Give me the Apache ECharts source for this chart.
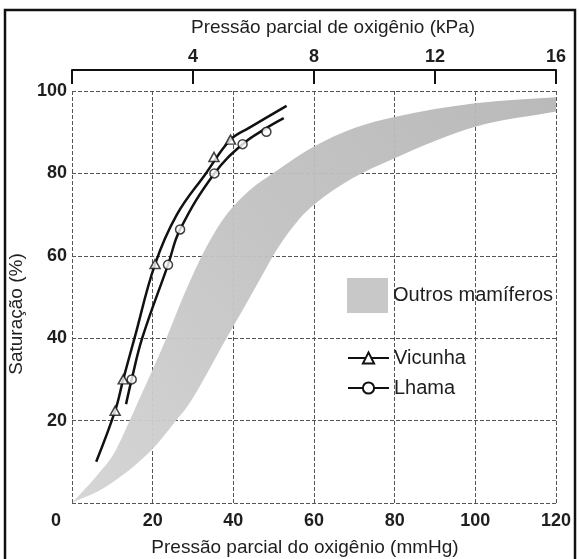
<!DOCTYPE html>
<html><head><meta charset="utf-8">
<script src="https://cdn.jsdelivr.net/npm/echarts@6/dist/echarts.min.js"></script>
<style>html,body{margin:0;padding:0;background:#fff}#c{width:579px;height:559px}</style>
</head><body><div id="c"></div>
<script>
// Axis ticks
const mmHgTicks = [0, 20, 40, 60, 80, 100, 120];
const kPaTicks = [0, 4, 8, 12, 16];
const satTicks = [0, 20, 40, 60, 80, 100];

// Measured points
const vicunhaPtsX = [10.7, 12.7, 20.6, 35.2, 39.3];
const vicunhaPtsY = [22.4, 30, 58, 84, 88.2];
const lhamaPtsX = [14.8, 23.8, 26.8, 35.3, 42.3, 48.2];
const lhamaPtsY = [30, 57.8, 66.4, 80, 87.1, 90.1];

// Fitted curves
const vicunhaCurveX = [6, 10.7, 12.7, 15.5, 20.6, 26, 33.2, 39.3, 44, 53.2];
const vicunhaCurveY = [10, 22.4, 30, 40, 58, 70, 80, 88.2, 91.1, 96.4];
const lhamaCurveX = [13.4, 14.8, 17.4, 23.8, 26.8, 35.3, 42.3, 48.2, 52.5];
const lhamaCurveY = [24, 30, 40, 57.8, 66.4, 80, 87.1, 91, 93.4];

// "Outros mamíferos" band edges
const bandUpperX = [0, 6.2, 10.5, 14.3, 16, 23.4, 26.5, 32.2, 37.2, 42.8, 51, 60, 70, 80, 100, 120];
const bandUpperY = [0, 6.7, 12.2, 20, 23.7, 40, 47.6, 60, 68.5, 74.8, 80.8, 86.5, 91, 93.7, 97, 98.5];
const bandLowerX = [0, 8.5, 19.8, 25.8, 28.8, 38.3, 43, 47.3, 50.8, 56.4, 60, 69.3, 80, 100, 120];
const bandLowerY = [0, 4, 12.9, 20, 23.7, 40, 48, 55.5, 61.5, 69, 72.4, 78.7, 83.7, 91.3, 95];

const FONT = 'Liberation Sans, Arial, sans-serif';
const TXT = '#1e1e1e';

const zip = (xs, ys) => xs.map((x, i) => [x, ys[i]]);
const bandUpper = zip(bandUpperX, bandUpperY);
const bandLower = zip(bandLowerX, bandLowerY);

// Monotone cubic bezier segments through pixel points (rendering only)
function monoSegments(p) {
  const n = p.length, d = [], m = [];
  for (let k = 0; k < n - 1; k++) d.push((p[k + 1][1] - p[k][1]) / (p[k + 1][0] - p[k][0]));
  m[0] = d[0]; m[n - 1] = d[n - 2];
  for (let k = 1; k < n - 1; k++) m[k] = (d[k - 1] * d[k] <= 0) ? 0 : (d[k - 1] + d[k]) / 2;
  for (let k = 0; k < n - 1; k++) {
    if (d[k] === 0) { m[k] = 0; m[k + 1] = 0; continue; }
    const a = m[k] / d[k], b = m[k + 1] / d[k], s = a * a + b * b;
    if (s > 9) { const t = 3 / Math.sqrt(s); m[k] = t * a * d[k]; m[k + 1] = t * b * d[k]; }
  }
  const segs = [];
  for (let k = 0; k < n - 1; k++) {
    const h = p[k + 1][0] - p[k][0];
    segs.push([p[k], [p[k][0] + h / 3, p[k][1] + m[k] * h / 3], [p[k + 1][0] - h / 3, p[k + 1][1] - m[k + 1] * h / 3], p[k + 1]]);
  }
  return segs;
}
const f = v => v.toFixed(2);

const chart = echarts.init(document.getElementById('c'), null, {renderer: 'canvas'});
const gridLine = {show: true, lineStyle: {color: '#555', width: 1, type: [4, 2]}};
const numLabel = {fontFamily: FONT, fontSize: 18, fontWeight: 'bold', color: TXT};

const option = {
  backgroundColor: '#fff',
  animation: false,
  graphic: [{
    type: 'rect', silent: true, z: 100,
    shape: {x: 5, y: 10, width: 570, height: 560},
    style: {fill: 'none', stroke: '#111', lineWidth: 2.5}
  }],
  grid: {left: 72, right: 23, top: 91, bottom: 56, containLabel: false, outerBoundsMode: 'none'},
  xAxis: [{
    type: 'value', position: 'bottom', min: mmHgTicks[0], max: mmHgTicks[mmHgTicks.length - 1], interval: 20,
    axisLine: {show: false}, axisTick: {show: false}, splitLine: gridLine,
    axisLabel: Object.assign({}, numLabel, {
      margin: 9,
      formatter: v => v === 0 ? '{z|0}' : String(v),
      rich: {z: {fontFamily: FONT, fontSize: 18, fontWeight: 'bold', color: TXT, padding: [0, 32, 0, 0]}}
    }),
    name: 'Pressão parcial do oxigênio (mmHg)', nameLocation: 'middle', nameGap: 35,
    nameTextStyle: {fontFamily: FONT, fontSize: 19, color: TXT, padding: [0, 18, 0, 0]}
  }, {
    type: 'value', position: 'top', min: kPaTicks[0], max: kPaTicks[kPaTicks.length - 1], interval: 4,
    offset: 21,
    axisLine: {show: true, lineStyle: {color: '#111', width: 2}},
    axisTick: {show: true, inside: true, length: 14, lineStyle: {color: '#111', width: 2}},
    splitLine: {show: false},
    axisLabel: Object.assign({}, numLabel, {margin: 4, formatter: v => v === 0 ? '' : String(v)}),
    name: 'Pressão parcial de oxigênio (kPa)', nameLocation: 'middle', nameGap: 33,
    nameTextStyle: {fontFamily: FONT, fontSize: 19, color: TXT, padding: [0, 0, 0, 38]}
  }],
  yAxis: {
    type: 'value', min: satTicks[0], max: satTicks[satTicks.length - 1], interval: 20,
    axisLine: {show: false}, axisTick: {show: false}, splitLine: gridLine,
    axisLabel: Object.assign({}, numLabel, {margin: 5, showMinLabel: false, formatter: v => v === 0 ? '' : String(v)}),
    name: 'Saturação (%)', nameLocation: 'middle', nameGap: 42,
    nameTextStyle: {fontFamily: FONT, fontSize: 19, color: TXT, padding: [0, 34, 0, 0]}
  },
  legend: [{
    data: [{name: 'Outros mamíferos', icon: 'rect'}], selectedMode: false,
    left: 347, top: 278, padding: 0, itemWidth: 41, itemHeight: 35,
    textStyle: {fontFamily: FONT, fontSize: 20, color: TXT}
  }, {
    data: ['Vicunha'], selectedMode: false,
    left: 347, top: 348, padding: 0, itemWidth: 41, itemHeight: 14,
    textStyle: {fontFamily: FONT, fontSize: 20, color: TXT}
  }, {
    data: ['Lhama'], selectedMode: false,
    left: 347, top: 378, padding: 0, itemWidth: 41, itemHeight: 14,
    textStyle: {fontFamily: FONT, fontSize: 20, color: TXT}
  }],
  series: [{
    name: 'Outros mamíferos', type: 'custom', clip: true, z: 1,
    itemStyle: {color: '#c8c8c8'},
    data: [[0, 0]],
    renderItem: function (params, api) {
      const up = monoSegments(bandUpper.map(p => api.coord(p)));
      const lo = monoSegments(bandLower.map(p => api.coord(p)));
      let d = 'M' + f(up[0][0][0]) + ' ' + f(up[0][0][1]);
      up.forEach(s => { d += ' C' + f(s[1][0]) + ' ' + f(s[1][1]) + ' ' + f(s[2][0]) + ' ' + f(s[2][1]) + ' ' + f(s[3][0]) + ' ' + f(s[3][1]); });
      const loEnd = lo[lo.length - 1][3];
      d += ' L' + f(loEnd[0]) + ' ' + f(loEnd[1]);
      for (let k = lo.length - 1; k >= 0; k--) {
        const s = lo[k];
        d += ' C' + f(s[2][0]) + ' ' + f(s[2][1]) + ' ' + f(s[1][0]) + ' ' + f(s[1][1]) + ' ' + f(s[0][0]) + ' ' + f(s[0][1]);
      }
      d += ' Z';
      return {
        type: 'path',
        shape: {pathData: d},
        style: {
          fill: new echarts.graphic.LinearGradient(0, 1, 1, 0, [
            {offset: 0, color: '#d4d4d4'},
            {offset: 0.5, color: '#c2c2c2'},
            {offset: 1, color: '#b6b6b6'}
          ]),
          opacity: 0.95,
          stroke: 'none'
        }
      };
    }
  }, {
    name: 'Vicunha', type: 'line', smooth: 0.4, z: 3,
    symbol: 'triangle', showSymbol: false, symbolSize: 10,
    itemStyle: {color: '#fff', borderColor: '#111', borderWidth: 1.5},
    lineStyle: {color: '#111', width: 2.5},
    data: zip(vicunhaCurveX, vicunhaCurveY)
  }, {
    name: 'Lhama', type: 'line', smooth: 0.4, z: 3,
    symbol: 'circle', showSymbol: false, symbolSize: 10,
    itemStyle: {color: '#fff', borderColor: '#111', borderWidth: 1.5},
    lineStyle: {color: '#111', width: 2.5},
    data: zip(lhamaCurveX, lhamaCurveY)
  }, {
    name: 'Vicunha pontos', type: 'scatter', z: 4,
    symbol: 'triangle', symbolSize: [10, 9],
    itemStyle: {color: '#fff', borderColor: '#111', borderWidth: 1.5},
    data: zip(vicunhaPtsX, vicunhaPtsY)
  }, {
    name: 'Lhama pontos', type: 'scatter', z: 4,
    symbol: 'circle', symbolSize: 9,
    itemStyle: {color: '#fff', borderColor: '#111', borderWidth: 1.5},
    data: zip(lhamaPtsX, lhamaPtsY)
  }]
};
chart.setOption(option);
</script>
</body></html>
